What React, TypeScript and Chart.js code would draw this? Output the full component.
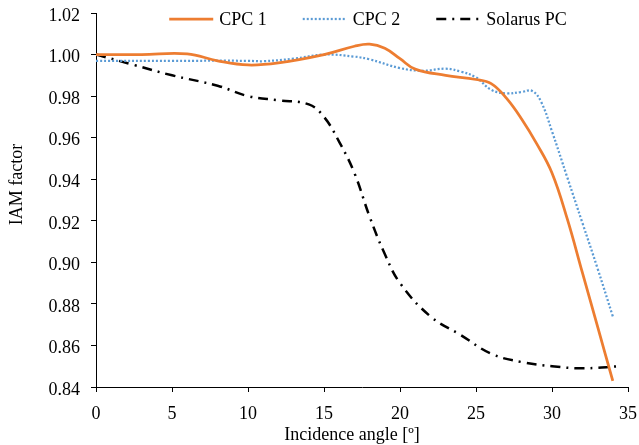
import React, { useEffect, useRef } from "react";
import { Chart, registerables } from "chart.js";

Chart.register(...registerables);

const cpc1Angles = [0, 3, 6, 8, 10, 12, 15, 17, 18, 19, 20, 21, 23, 25, 26, 27, 28, 29, 30, 31, 32, 33, 34];
const cpc1Values = [1.0, 1.0, 1.0003, 0.997, 0.995, 0.996, 1.0, 1.004, 1.005, 1.003, 0.998, 0.993, 0.99, 0.988, 0.986, 0.979, 0.969, 0.957, 0.943, 0.921, 0.895, 0.869, 0.843];

const cpc2Angles = [0, 5, 10, 11, 13, 15, 17, 18, 20, 21.5, 23, 24, 25, 26, 27, 28, 28.7, 29.3, 30, 31, 32, 33, 34];
const cpc2Values = [0.997, 0.997, 0.997, 0.9968, 0.998, 1.0, 0.999, 0.9977, 0.9935, 0.9922, 0.9932, 0.9918, 0.989, 0.983, 0.9813, 0.982, 0.9825, 0.977, 0.963, 0.941, 0.919, 0.897, 0.874];

const solarusAngles = [0, 2.5, 5, 8, 10, 12, 14, 15, 16, 17, 18, 19, 20, 22, 24, 26, 28, 30, 32, 34.5];
const solarusValues = [1.0, 0.995, 0.99, 0.985, 0.98, 0.978, 0.976, 0.97, 0.958, 0.943, 0.922, 0.904, 0.89, 0.874, 0.865, 0.856, 0.852, 0.85, 0.849, 0.85];

const seriesNames = ["CPC 1", "CPC 2", "Solarus PC"];
const xTitle = "Incidence angle [º]";
const yTitle = "IAM factor";

const FONT = "'Liberation Serif', 'Times New Roman', serif";
const FONT_SIZE = 18;

const toPoints = (xs: number[], ys: number[]) => xs.map((x, i) => ({ x, y: ys[i] }));

const legendPlugin = {
  id: "customLegend",
  afterDraw(chart: any) {
    const { ctx, chartArea } = chart;
    ctx.save();
    ctx.font = `${FONT_SIZE}px ${FONT}`;
    ctx.textBaseline = "middle";
    ctx.textAlign = "left";
    const lineLen = 44;
    const textGap = 6;
    const itemGap = 36;
    const datasets = chart.data.datasets;
    const widths = datasets.map((d: any) => lineLen + textGap + ctx.measureText(d.label).width);
    const total = widths.reduce((a: number, b: number) => a + b, 0) + itemGap * (datasets.length - 1);
    let x = (chartArea.left + chartArea.right) / 2 + 6 - total / 2;
    const y = 19;
    datasets.forEach((d: any, i: number) => {
      ctx.save();
      ctx.strokeStyle = d.borderColor;
      ctx.lineWidth = d.borderWidth;
      ctx.setLineDash(d.borderDash || []);
      ctx.lineCap = "butt";
      ctx.beginPath();
      ctx.moveTo(x, y);
      ctx.lineTo(x + lineLen, y);
      ctx.stroke();
      ctx.restore();
      ctx.fillStyle = "#000";
      ctx.fillText(d.label, x + lineLen + textGap, y + 1);
      x += widths[i] + itemGap;
    });

    ctx.fillStyle = "#000";
    // x-axis title
    ctx.textAlign = "center";
    ctx.textBaseline = "alphabetic";
    ctx.fillText(xTitle, (chartArea.left + chartArea.right) / 2 - 10, 440);

    // y-axis title
    ctx.save();
    ctx.translate(17, 184.5);
    ctx.rotate(-Math.PI / 2);
    ctx.textAlign = "center";
    ctx.textBaseline = "middle";
    ctx.fillText(yTitle, 0, 0);
    ctx.restore();

    ctx.restore();
  },
};

export default function App() {
  const canvasRef = useRef<HTMLCanvasElement>(null);

  useEffect(() => {
    document.body.style.margin = "0";
    const canvas = canvasRef.current;
    if (!canvas) return;
    const chart = new Chart(canvas, {
      type: "line",
      data: {
        datasets: [
          {
            label: seriesNames[0],
            data: toPoints(cpc1Angles, cpc1Values),
            borderColor: "#ED7D31",
            borderWidth: 2.75,
            pointRadius: 0,
            tension: 0.4,
          },
          {
            label: seriesNames[1],
            data: toPoints(cpc2Angles, cpc2Values),
            borderColor: "#5B9BD5",
            borderWidth: 2.25,
            borderDash: [2, 2],
            pointRadius: 0,
            tension: 0.4,
          },
          {
            label: seriesNames[2],
            data: toPoints(solarusAngles, solarusValues),
            borderColor: "#000000",
            borderWidth: 2.5,
            borderDash: [10, 6, 2, 6],
            pointRadius: 0,
            tension: 0.4,
          },
        ],
      },
      options: {
        responsive: false,
        animation: false,
        layout: { padding: { top: 13, right: 11, left: 0, bottom: 0 } },
        plugins: {
          legend: { display: false },
          tooltip: { enabled: false },
        },
        scales: {
          x: {
            type: "linear",
            min: 0,
            max: 35,
            afterFit: (scale: any) => {
              scale.height = 58;
              scale.paddingLeft = 0;
              scale.paddingRight = 0;
            },
            ticks: {
              stepSize: 5,
              color: "#000",
              padding: 11,
              font: { family: FONT, size: FONT_SIZE },
            },
            grid: {
              drawOnChartArea: false,
              drawTicks: true,
              tickLength: 5,
              color: "#000",
            },
            border: { color: "#000", width: 1 },
            title: { display: false, text: xTitle },
          },
          y: {
            type: "linear",
            min: 0.84,
            max: 1.02,
            afterFit: (scale: any) => {
              scale.width = 96;
              scale.paddingTop = 0;
              scale.paddingBottom = 0;
            },
            ticks: {
              stepSize: 0.02,
              color: "#000",
              padding: 11,
              labelOffset: 3,
              font: { family: FONT, size: FONT_SIZE },
              callback: (v: any) => Number(v).toFixed(2),
            },
            grid: {
              drawOnChartArea: false,
              drawTicks: true,
              tickLength: 5,
              color: "#000",
            },
            border: { color: "#000", width: 1 },
            title: { display: false, text: yTitle },
          },
        },
      },
      plugins: [legendPlugin],
    });
    return () => chart.destroy();
  }, []);

  return (
    <div style={{ position: "absolute", left: 0, top: 0, width: 639, height: 445 }}>
      <canvas ref={canvasRef} width={639} height={445} />
    </div>
  );
}
